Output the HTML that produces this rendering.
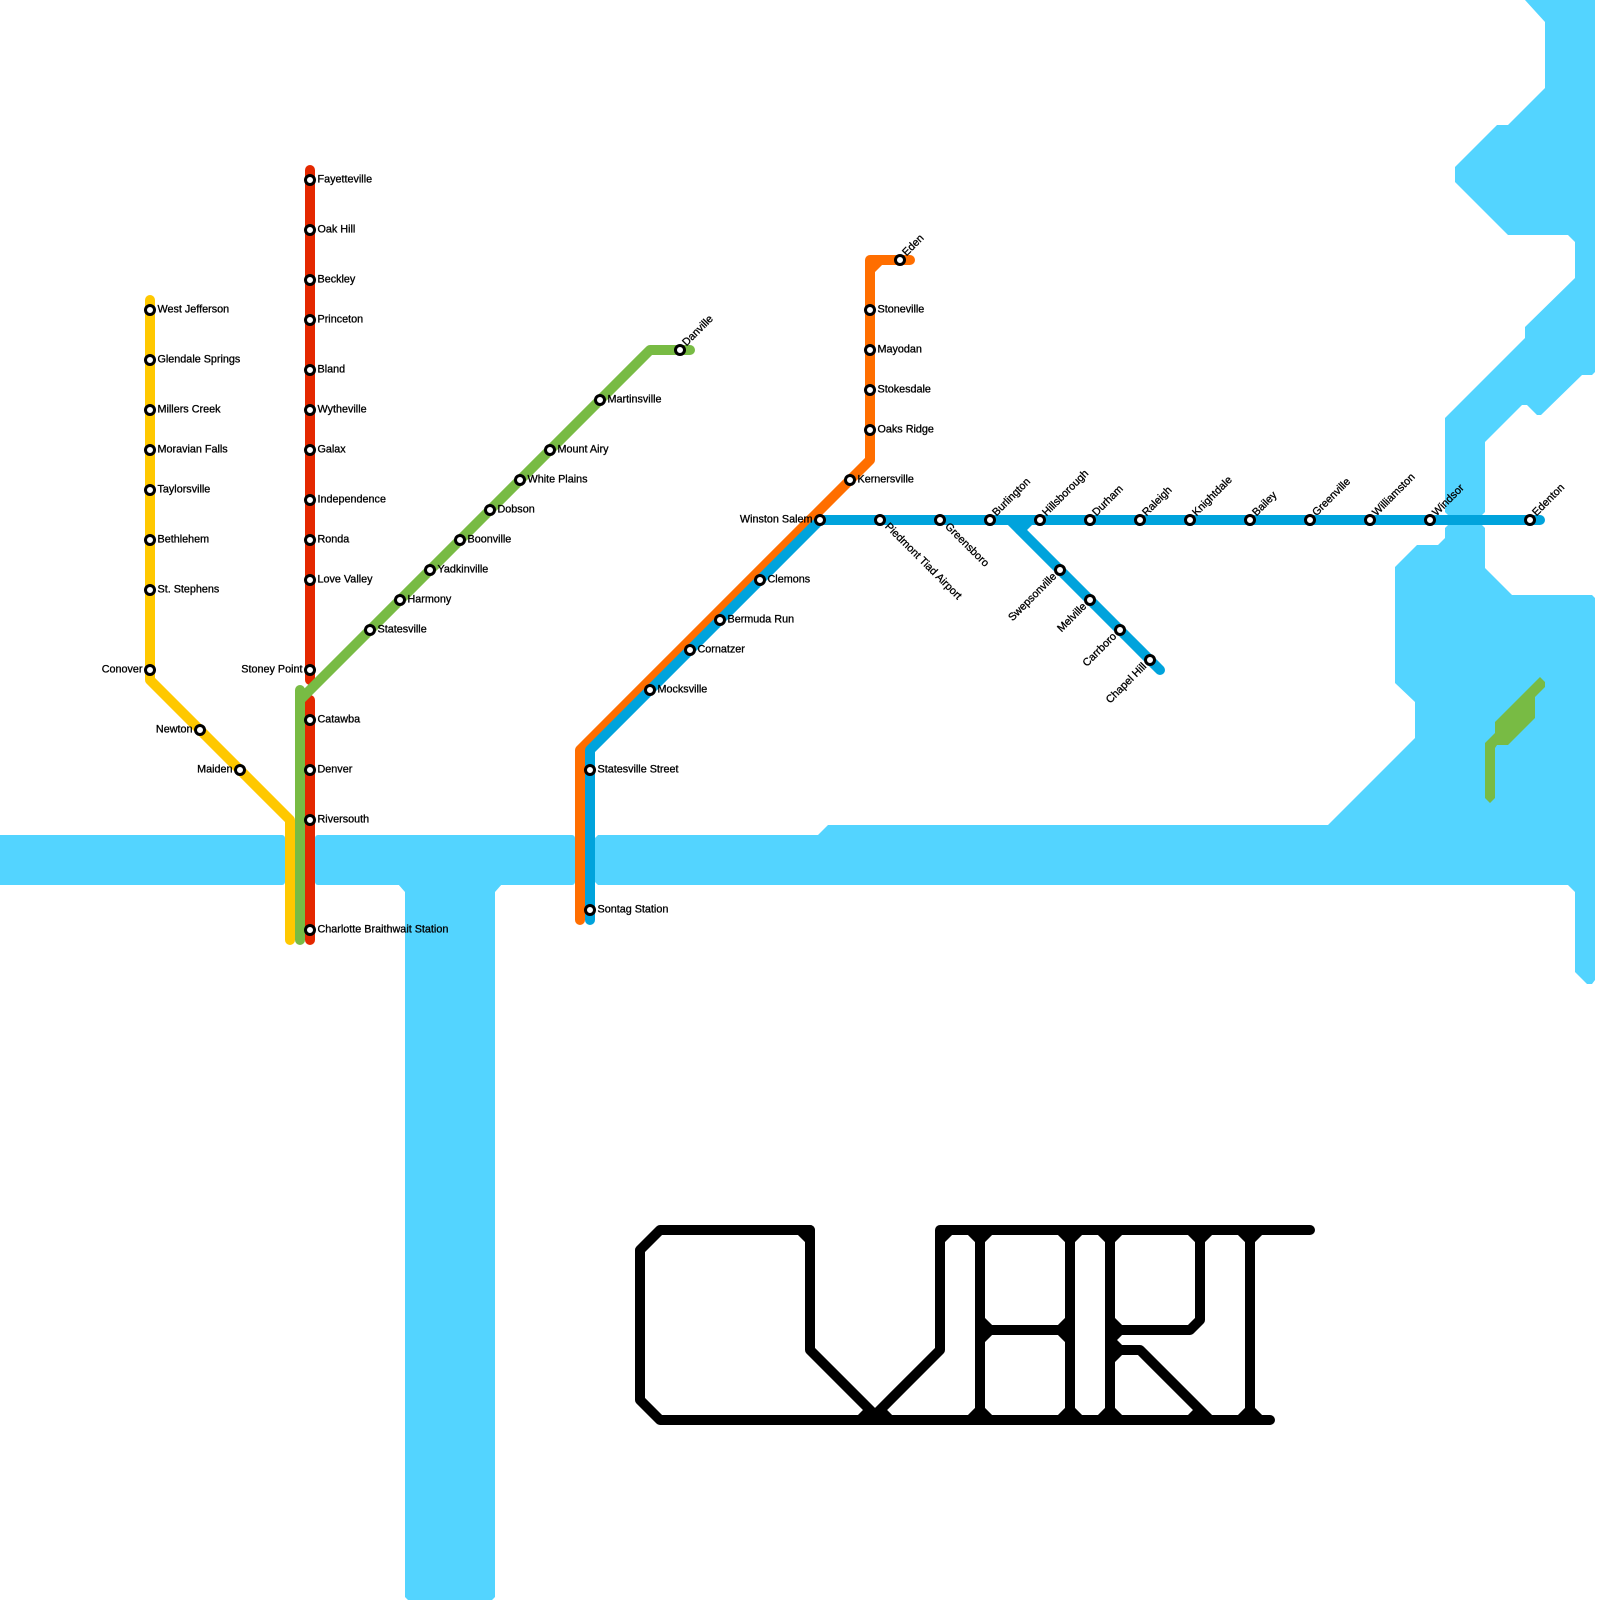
<!DOCTYPE html>
<html><head><meta charset="utf-8"><style>
html,body{margin:0;padding:0;background:#fff;width:1600px;height:1600px;overflow:hidden}
svg{display:block}
text{font-family:"Liberation Sans",sans-serif;font-size:10.8px;fill:#000;stroke:#000;stroke-width:.3px}
.l{fill:none;stroke-width:10;stroke-linecap:round;stroke-linejoin:round}
.k{fill:none;stroke:#000;stroke-width:10;stroke-linecap:round;stroke-linejoin:round}
.c{fill:none;stroke:#000;stroke-width:10;stroke-linecap:butt}
circle{fill:#fff;stroke:#000;stroke-width:3}
.e{text-anchor:end}
</style></head><body>
<svg width="1600" height="1600" viewBox="0 0 1600 1600" xmlns="http://www.w3.org/2000/svg">
<g fill="#53d4ff">
<rect x="-10" y="835" width="295" height="50" rx="3"/>
<rect x="315" y="835" width="260" height="50" rx="3"/>
<polygon points="398,884 502,884 495,892 495,1597 492,1600 408,1600 405,1597 405,892"/>
<polygon points="1525,0 1545,22 1545,88 1508,125 1497,125 1455,167 1455,182 1508,235 1568,235 1575,242 1575,278 1525,327 1525,338 1445,418 1445,512 1448,515 1482,515 1485,512 1485,442 1522,405 1527,405 1537,415 1541,415 1582,375 1592,375 1595,372 1595,0"/>
<polygon points="1448,525 1482,525 1485,528 1485,568 1512,595 1592,595 1595,598 1595,980 1592,984 1587,984 1575,972 1575,892 1568,885 598,885 595,882 595,838 598,835 818,835 828,825 1328,825 1415,738 1415,702 1395,683 1395,567 1417,545 1438,545 1445,538 1445,528"/>
</g>
<polygon fill="#78bb44" points="1490,803 1495,798 1495,748 1497,745 1508,745 1535,718 1535,697 1545,687 1545,682 1540,677 1495,722 1495,733 1485,743 1485,798"/>

<polyline class="l" stroke="#e42800" points="310,170 310,680"/>
<polyline class="l" stroke="#e42800" points="310,700 310,940"/>
<polyline class="l" stroke="#ffc800" points="150,300 150,680 290,820 290,940"/>
<polyline class="l" stroke="#78bb44" points="300,940 300,690"/>
<polyline class="l" stroke="#78bb44" points="300,700 650,350 690,350"/>
<polyline class="l" stroke="#ff6e00" points="580,920 580,750 870,460 870,260 910,260"/>
<line class="l" stroke="#ff6e00" x1="870" y1="270" x2="880" y2="260"/>
<polyline class="l" stroke="#00a3dc" points="590,920 590,750 820,520 1540,520"/>
<polyline class="l" stroke="#00a3dc" points="1010,520 1160,670"/>
<line class="l" stroke="#00a3dc" x1="1020" y1="530" x2="1030" y2="520"/>

<!-- logo -->
<polyline class="k" points="810,1230 660,1230 640,1250 640,1400 660,1420 1270,1420"/>
<polyline class="k" points="810,1230 810,1350 880,1420"/>
<polyline class="k" points="1310,1230 940,1230 940,1350 870,1420"/>
<polyline class="k" points="980,1230 980,1420"/>
<polyline class="k" points="1070,1230 1070,1420"/>
<polyline class="k" points="1110,1230 1110,1420"/>
<polyline class="k" points="1250,1230 1250,1420"/>
<polyline class="k" points="980,1330 1070,1330"/>
<polyline class="k" points="1200,1230 1200,1320 1190,1330 1110,1330"/>
<polyline class="k" points="1120,1330 1110,1340 1120,1350 1140,1350 1210,1420"/>
<g class="c">
<path class="c" d="M800 1230L810 1240M940 1240L950 1230M860 1420L870 1410M880 1410L890 1420
M970 1230L980 1240L990 1230M1060 1230L1070 1240L1080 1230M1100 1230L1110 1240L1120 1230M1190 1230L1200 1240L1210 1230M1240 1230L1250 1240L1260 1230
M970 1420L980 1410L990 1420M1060 1420L1070 1410L1080 1420M1100 1420L1110 1410L1120 1420M1240 1420L1250 1410L1260 1420M1190 1420L1200 1410
M980 1320L990 1330L980 1340M1070 1320L1060 1330L1070 1340M1110 1320L1120 1330M1110 1360L1120 1350"/>
</g>

<!-- yellow stations -->
<g>
<circle cx="150" cy="310" r="4.5"/><text x="157.5" y="312.5">West Jefferson</text>
<circle cx="150" cy="360" r="4.5"/><text x="157.5" y="362.5">Glendale Springs</text>
<circle cx="150" cy="410" r="4.5"/><text x="157.5" y="412.5">Millers Creek</text>
<circle cx="150" cy="450" r="4.5"/><text x="157.5" y="452.5">Moravian Falls</text>
<circle cx="150" cy="490" r="4.5"/><text x="157.5" y="492.5">Taylorsville</text>
<circle cx="150" cy="540" r="4.5"/><text x="157.5" y="542.5">Bethlehem</text>
<circle cx="150" cy="590" r="4.5"/><text x="157.5" y="592.5">St. Stephens</text>
<circle cx="150" cy="670" r="4.5"/><text class="e" x="142.5" y="672.5">Conover</text>
<circle cx="200" cy="730" r="4.5"/><text class="e" x="192.5" y="732.5">Newton</text>
<circle cx="240" cy="770" r="4.5"/><text class="e" x="232.5" y="772.5">Maiden</text>
</g>
<!-- red stations -->
<g>
<circle cx="310" cy="180" r="4.5"/><text x="317.5" y="182.5">Fayetteville</text>
<circle cx="310" cy="230" r="4.5"/><text x="317.5" y="232.5">Oak Hill</text>
<circle cx="310" cy="280" r="4.5"/><text x="317.5" y="282.5">Beckley</text>
<circle cx="310" cy="320" r="4.5"/><text x="317.5" y="322.5">Princeton</text>
<circle cx="310" cy="370" r="4.5"/><text x="317.5" y="372.5">Bland</text>
<circle cx="310" cy="410" r="4.5"/><text x="317.5" y="412.5">Wytheville</text>
<circle cx="310" cy="450" r="4.5"/><text x="317.5" y="452.5">Galax</text>
<circle cx="310" cy="500" r="4.5"/><text x="317.5" y="502.5">Independence</text>
<circle cx="310" cy="540" r="4.5"/><text x="317.5" y="542.5">Ronda</text>
<circle cx="310" cy="580" r="4.5"/><text x="317.5" y="582.5">Love Valley</text>
<circle cx="310" cy="670" r="4.5"/><text class="e" x="302.5" y="672.5">Stoney Point</text>
<circle cx="310" cy="720" r="4.5"/><text x="317.5" y="722.5">Catawba</text>
<circle cx="310" cy="770" r="4.5"/><text x="317.5" y="772.5">Denver</text>
<circle cx="310" cy="820" r="4.5"/><text x="317.5" y="822.5">Riversouth</text>
<circle cx="310" cy="930" r="4.5"/><text x="317.5" y="932.5">Charlotte Braithwait Station</text>
</g>
<!-- green stations -->
<g>
<circle cx="370" cy="630" r="4.5"/><text x="377.5" y="632.5">Statesville</text>
<circle cx="400" cy="600" r="4.5"/><text x="407.5" y="602.5">Harmony</text>
<circle cx="430" cy="570" r="4.5"/><text x="437.5" y="572.5">Yadkinville</text>
<circle cx="460" cy="540" r="4.5"/><text x="467.5" y="542.5">Boonville</text>
<circle cx="490" cy="510" r="4.5"/><text x="497.5" y="512.5">Dobson</text>
<circle cx="520" cy="480" r="4.5"/><text x="527.5" y="482.5">White Plains</text>
<circle cx="550" cy="450" r="4.5"/><text x="557.5" y="452.5">Mount Airy</text>
<circle cx="600" cy="400" r="4.5"/><text x="607.5" y="402.5">Martinsville</text>
<circle cx="680" cy="350" r="4.5"/><text transform="translate(686.5,346.5) rotate(-45)">Danville</text>
</g>
<!-- orange stations -->
<g>
<circle cx="900" cy="260" r="4.5"/><text transform="translate(906.5,256.5) rotate(-45)">Eden</text>
<circle cx="870" cy="310" r="4.5"/><text x="877.5" y="312.5">Stoneville</text>
<circle cx="870" cy="350" r="4.5"/><text x="877.5" y="352.5">Mayodan</text>
<circle cx="870" cy="390" r="4.5"/><text x="877.5" y="392.5">Stokesdale</text>
<circle cx="870" cy="430" r="4.5"/><text x="877.5" y="432.5">Oaks Ridge</text>
<circle cx="850" cy="480" r="4.5"/><text x="857.5" y="482.5">Kernersville</text>
</g>
<!-- blue stations -->
<g>
<circle cx="590" cy="770" r="4.5"/><text x="597.5" y="772.5">Statesville Street</text>
<circle cx="590" cy="910" r="4.5"/><text x="597.5" y="912.5">Sontag Station</text>
<circle cx="650" cy="690" r="4.5"/><text x="657.5" y="692.5">Mocksville</text>
<circle cx="690" cy="650" r="4.5"/><text x="697.5" y="652.5">Cornatzer</text>
<circle cx="720" cy="620" r="4.5"/><text x="727.5" y="622.5">Bermuda Run</text>
<circle cx="760" cy="580" r="4.5"/><text x="767.5" y="582.5">Clemons</text>
<circle cx="820" cy="520" r="4.5"/><text class="e" x="812.5" y="522.5">Winston Salem</text>
<circle cx="880" cy="520" r="4.5"/><text transform="translate(884.5,527) rotate(45)">Piedmont Tiad Airport</text>
<circle cx="940" cy="520" r="4.5"/><text transform="translate(944.5,527) rotate(45)">Greensboro</text>
<circle cx="990" cy="520" r="4.5"/><text transform="translate(996.5,516.5) rotate(-45)">Burlington</text>
<circle cx="1040" cy="520" r="4.5"/><text transform="translate(1046.5,516.5) rotate(-45)">Hillsborough</text>
<circle cx="1090" cy="520" r="4.5"/><text transform="translate(1096.5,516.5) rotate(-45)">Durham</text>
<circle cx="1140" cy="520" r="4.5"/><text transform="translate(1146.5,516.5) rotate(-45)">Raleigh</text>
<circle cx="1190" cy="520" r="4.5"/><text transform="translate(1196.5,516.5) rotate(-45)">Knightdale</text>
<circle cx="1250" cy="520" r="4.5"/><text transform="translate(1256.5,516.5) rotate(-45)">Bailey</text>
<circle cx="1310" cy="520" r="4.5"/><text transform="translate(1316.5,516.5) rotate(-45)">Greenville</text>
<circle cx="1370" cy="520" r="4.5"/><text transform="translate(1376.5,516.5) rotate(-45)">Williamston</text>
<circle cx="1430" cy="520" r="4.5"/><text transform="translate(1436.5,516.5) rotate(-45)">Windsor</text>
<circle cx="1530" cy="520" r="4.5"/><text transform="translate(1536.5,516.5) rotate(-45)">Edenton</text>
<circle cx="1060" cy="570" r="4.5"/><text class="e" transform="translate(1057,577) rotate(-45)">Swepsonville</text>
<circle cx="1090" cy="600" r="4.5"/><text class="e" transform="translate(1087,607) rotate(-45)">Melville</text>
<circle cx="1120" cy="630" r="4.5"/><text class="e" transform="translate(1117,637) rotate(-45)">Carrboro</text>
<circle cx="1150" cy="660" r="4.5"/><text class="e" transform="translate(1147,667) rotate(-45)">Chapel Hill</text>
</g>
</svg>
</body></html>
